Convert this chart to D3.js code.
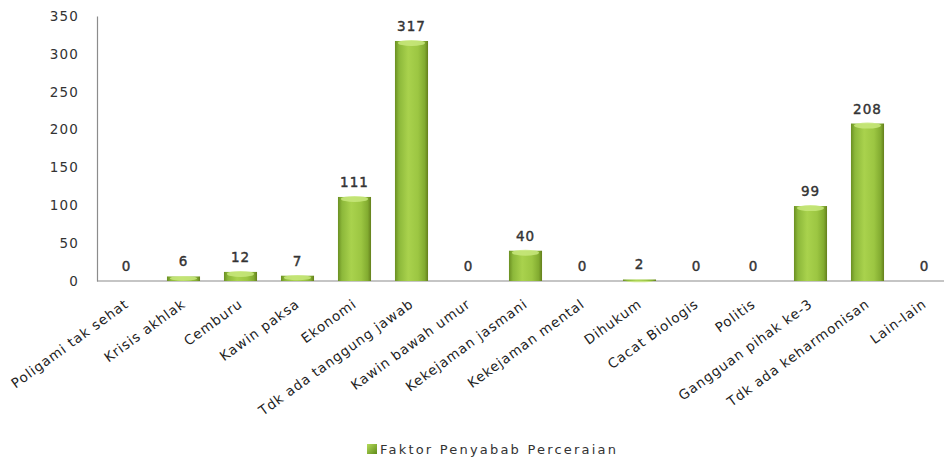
<!DOCTYPE html>
<html><head><meta charset="utf-8">
<script src="https://cdn.jsdelivr.net/npm/d3@7"></script>
<style>body{margin:0;background:#fff;} svg{display:block;}</style>
</head><body><svg id="c" width="944" height="459"></svg>
<script>
const categories = ["Poligami tak sehat","Krisis akhlak","Cemburu","Kawin paksa","Ekonomi","Tdk ada tanggung jawab","Kawin bawah umur","Kekejaman jasmani","Kekejaman mental","Dihukum","Cacat Biologis","Politis","Gangguan pihak ke-3","Tdk ada keharmonisan","Lain-lain"];
const values = [0,6,12,7,111,317,0,40,0,2,0,0,99,208,0];
const yTicks = [0,50,100,150,200,250,300,350];
const seriesName = "Faktor Penyabab Perceraian";

const svg = d3.select("#c");
const defs = svg.append("defs");
const g = defs.append("linearGradient").attr("id","barg").attr("x1","0").attr("x2","1").attr("y1","0").attr("y2","0");
[["0%","#6a8f22"],["12%","#8cb83a"],["40%","#a9d24d"],["70%","#9cc642"],["90%","#82ab30"],["100%","#647f1c"]].forEach(s=>g.append("stop").attr("offset",s[0]).attr("stop-color",s[1]));
const gl = defs.append("linearGradient").attr("id","legg").attr("x1","0").attr("x2","1").attr("y1","0").attr("y2","1");
gl.append("stop").attr("offset","0%").attr("stop-color","#b5dc5a");
gl.append("stop").attr("offset","100%").attr("stop-color","#5e8a1a");

const font = "DejaVu Sans, Verdana, sans-serif";
const x = d3.scaleBand().domain(categories).range([98, 98 + 57*categories.length]).paddingInner(0.42).paddingOuter(0.21);
const y = d3.scaleLinear().domain([0,350]).range([281,16]);

// y axis
const ya = svg.append("g").attr("transform","translate(97,0)")
  .call(d3.axisLeft(y).tickValues(yTicks).tickSize(0).tickPadding(18));
ya.select(".domain").attr("stroke","#8c8c8c").attr("stroke-width",1.2);
ya.selectAll("text").attr("font-family",font).attr("font-size",13.5).attr("letter-spacing",1.2).attr("fill","#333");

// x axis
const xa = svg.append("g").attr("transform","translate(0,281)")
  .call(d3.axisBottom(x).tickSize(0).tickPadding(0));
xa.select(".domain").attr("stroke","#8c8c8c").attr("stroke-width",1.2).attr("d","M97,0H944");
xa.selectAll("text")
  .attr("font-family",font).attr("font-size",13.5).attr("letter-spacing",0.9).attr("fill","#222")
  .attr("text-anchor","end").attr("dy",0).attr("y",0)
  .attr("transform","translate(3,25) rotate(-36)");

// bars
const bars = svg.append("g");
bars.selectAll("rect").data(values).join("rect")
  .attr("x",(d,i)=>x(categories[i]))
  .attr("y",d=>y(d))
  .attr("width",x.bandwidth())
  .attr("height",d=>y(0)-y(d))
  .attr("fill","url(#barg)");
// top cap highlight
bars.selectAll("ellipse").data(values.map((v,i)=>({v,i})).filter(d=>d.v>0)).join("ellipse")
  .attr("cx",d=>x(categories[d.i])+x.bandwidth()/2)
  .attr("cy",d=>y(d.v)+2)
  .attr("rx",x.bandwidth()/2-3)
  .attr("ry",d=>Math.min(3,(y(0)-y(d.v))/2))
  .attr("fill","#c8e87c").attr("opacity",0.85);

// value labels
svg.append("g").selectAll("text").data(values).join("text")
  .attr("x",(d,i)=>x(categories[i])+x.bandwidth()/2)
  .attr("y",d=>y(d)-10)
  .attr("text-anchor","middle")
  .attr("font-family",font).attr("font-size",13.5).attr("letter-spacing",1)
  .attr("fill","#333").attr("stroke","#333").attr("stroke-width",0.4).text(d=>d);

// legend
const lg = svg.append("g");
lg.append("rect").attr("x",367).attr("y",444).attr("width",10).attr("height",10).attr("fill","url(#legg)");
lg.append("text").attr("x",380).attr("y",454)
  .attr("font-family",font).attr("font-size",13).attr("letter-spacing",2.2)
  .attr("fill","#333").text(seriesName);
</script></body></html>
